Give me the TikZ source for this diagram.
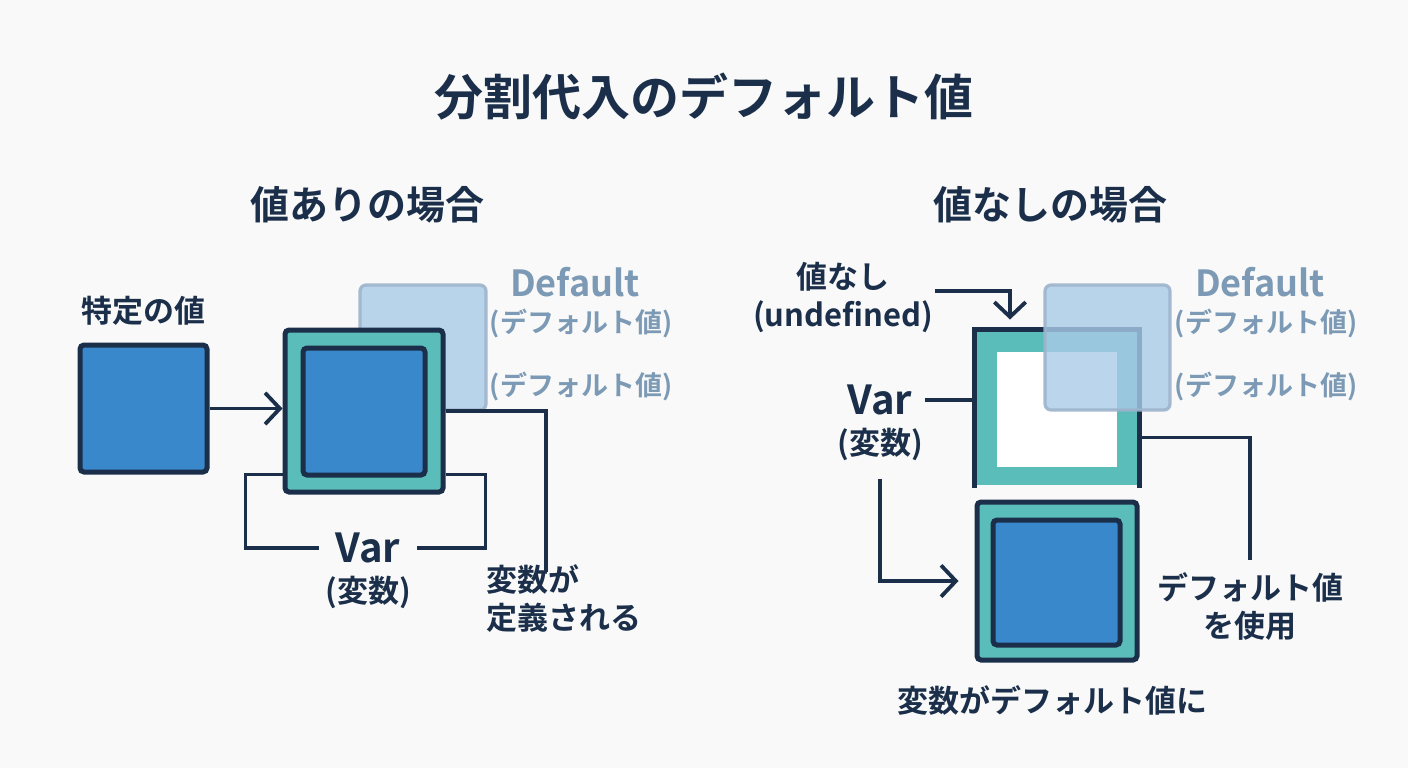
\documentclass[tikz,border=0pt]{standalone}
\usepackage{fontspec}
\setmainfont{Noto Sans CJK JP}[BoldFont={Noto Sans CJK JP Bold}]
\usetikzlibrary{arrows.meta,positioning}
\definecolor{dsink}{HTML}{1B2F4A}
\definecolor{dsblue}{HTML}{3A88CC}
\definecolor{dsteal}{HTML}{5BBDB9}
\definecolor{dsfaded}{HTML}{A9CBE8}
\definecolor{dsfadededge}{HTML}{9DB4CC}
\definecolor{dsmuted}{HTML}{7C9AB5}
\definecolor{dspaper}{HTML}{F8F9F8}
\tikzset{
  boxframe/.style={draw=dsink,line width=2.5pt,rounded corners=2pt,inner sep=0pt},
  valuebox/.style={boxframe,fill=dsblue},
  varframe/.style={boxframe,fill=dsteal},
  defaultbox/.style={draw=dsfadededge,fill=dsfaded,fill opacity=0.8,draw opacity=0.9,
    line width=1.6pt,rounded corners=3pt,inner sep=0pt},
  linkline/.style={draw=dsink,line width=1.9pt},
  linkarrow/.style={draw=dsink,line width=1.9pt,-{Straight Barb[length=2.6mm,width=5.5mm]}},
  inklabel/.style={text=dsink,font=\bfseries\fontsize{15.5}{19}\selectfont,align=center,inner sep=1pt},
  mutedlabel/.style={text=dsmuted,font=\bfseries\fontsize{13.5}{16}\selectfont,inner sep=1pt},
}

\begin{document}
\begin{tikzpicture}[x=0.5pt,y=-0.5pt]
  \fill[dspaper] (0,0) rectangle (1408,768);
  \useasboundingbox (0,0) rectangle (1408,768);
  \node[text=dsink,font=\bfseries\fontsize{24.5}{28}\selectfont] (title) at (704,97) {分割代入のデフォルト値};
  \node[text=dsink,font=\bfseries\fontsize{19.5}{23}\selectfont] (headL) at (367,205) {値ありの場合};
  \node[text=dsink,font=\bfseries\fontsize{19.5}{23}\selectfont] (headR) at (1050,205) {値なしの場合};

  % value present
  \node[defaultbox,minimum width=63pt,minimum height=62.5pt] (defL) at (423,347.5) {};
  \node[valuebox,minimum size=63.5pt] (val) at (143.5,408.5) {};
  \node[inklabel] (valnote) at (143,311) {特定の値};
  \node[varframe,minimum width=79pt,minimum height=81pt] (varL) at (364,411) {};
  \node[valuebox,minimum width=61pt,minimum height=63.5pt] (varLin) at (364,411.5) {};
  \node[mutedlabel,font=\bfseries\fontsize{18}{21}\selectfont] (defnameL) at (575,282) {Default};
  \node[mutedlabel] (defnoteL) at (581,323) {(デフォルト値)};
  \node[mutedlabel] (defnoteLb) at (581,386) {(デフォルト値)};
  \node[inklabel,font=\bfseries\fontsize{20}{23}\selectfont,inner sep=8pt] (varnameL) at (368,548) {Var};
  \node[inklabel] (varnoteL) at (368,592) {(変数)};
  \node[inklabel,align=left,anchor=north west] (defined) at (484,562) {変数が\\定義される};
  \draw[linkarrow] (val.east) -- (val.east -| varL.west);
  \draw[linkline] ([yshift=10pt]varL.south west) -- ++(-37,0) |- (varnameL.west);
  \draw[linkline] ([yshift=10pt]varL.south east) -- ++(40,0) |- (varnameL.east);
  \draw[linkline] (varL.east) -| ([xshift=-9pt,yshift=-5pt]defined.north);

  % value missing
  \node[varframe,draw=none,rounded corners=0pt,minimum width=80pt,minimum height=76.5pt] (varR) at (1057,408.5) {};
  \node[fill=white,inner sep=0pt,minimum width=60pt,minimum height=57.5pt] (varRin) at (1057,409.5) {};
  \draw[draw=dsink,line width=2.5pt] (varR.south west) -- (varR.north west) -- (varR.north east) -- (varR.south east);
  \node[defaultbox,minimum width=62.5pt,minimum height=62.5pt] (defR) at (1107.5,347.5) {};
  \node[inklabel] (undef) at (843,297) {値なし\\(undefined)};
  \node[mutedlabel,font=\bfseries\fontsize{18}{21}\selectfont] (defnameR) at (1260,282) {Default};
  \node[mutedlabel] (defnoteR) at (1266,323) {(デフォルト値)};
  \node[mutedlabel] (defnoteRb) at (1266,386) {(デフォルト値)};
  \node[inklabel,font=\bfseries\fontsize{20}{23}\selectfont,inner sep=6pt] (varnameR) at (880,400) {Var};
  \node[inklabel] (varnoteR) at (880,444) {(変数)};
  \node[varframe,minimum width=80pt,minimum height=79pt] (resR) at (1057,581) {};
  \node[valuebox,minimum width=63.5pt,minimum height=62.5pt] (resRin) at (1056.5,582.5) {};
  \node[inklabel] (usedef) at (1250,606) {デフォルト値\\を使用};
  \node[inklabel] (result) at (1052,700) {変数がデフォルト値に};
  \draw[linkarrow] ([yshift=3pt]undef.east) -| ([xshift=-23.5pt,yshift=5pt]varR.north);
  \draw[linkline] (varnameR.east) -- (varnameR.east -| varR.west);
  \draw[linkline] ([yshift=-14.5pt]varR.east) -| ([yshift=5pt]usedef.north);
  \draw[linkarrow] ([yshift=-8pt]varnoteR.south) |- ([xshift=-8pt]resR.west);
\end{tikzpicture}
\end{document}
